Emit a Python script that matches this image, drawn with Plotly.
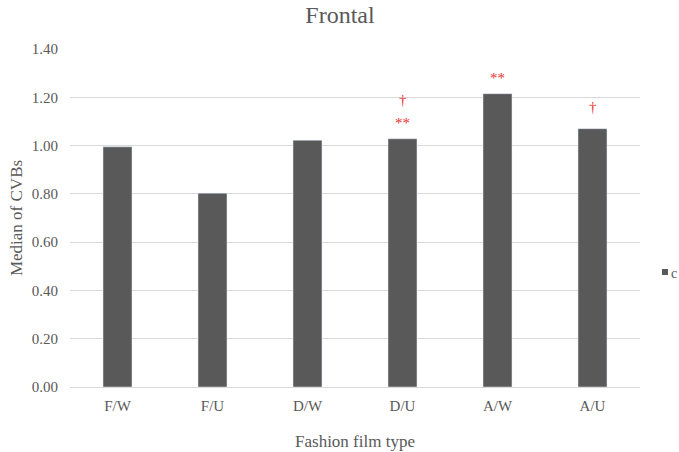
import plotly.graph_objects as go

categories = ["F/W", "F/U", "D/W", "D/U", "A/W", "A/U"]
values = [0.995, 0.803, 1.022, 1.028, 1.215, 1.070]
series_name = "c"
# significance markers: (category, y position, text)
markers = [("D/U", 1.093, "**"), ("D/U", 1.19, "†"), ("A/W", 1.281, "**"), ("A/U", 1.158, "†")]
y_ticks = [0.0, 0.2, 0.4, 0.6, 0.8, 1.0, 1.2, 1.4]

serif = "Liberation Serif, Times New Roman, serif"
grey = "#595959"

fig = go.Figure()
fig.add_trace(go.Bar(x=categories, y=values, name=series_name, marker_color=grey,
                     showlegend=False))

for cat, y, txt in markers:
    fig.add_annotation(x=cat, y=y, text=txt, showarrow=False,
                       font=dict(family=serif, size=15, color="#e8312f"))

# legend drawn manually at the right edge, as in the reference
fig.add_annotation(xref="paper", yref="paper", x=(662 - 70) / 570, y=(387 - 272) / 338,
                   xanchor="left", yanchor="middle", text="", showarrow=False,
                   width=6, height=6, bgcolor=grey, borderpad=0, borderwidth=0)
fig.add_annotation(xref="paper", yref="paper", x=(670 - 70) / 570, y=(387 - 273) / 338,
                   xanchor="left", yanchor="middle", text=series_name, showarrow=False,
                   borderpad=0, font=dict(family=serif, size=14, color=grey))

fig.update_layout(
    width=679, height=452,
    margin=dict(l=70, r=39, t=49, b=65),
    paper_bgcolor="white", plot_bgcolor="white",
    bargap=0.695,
    showlegend=False,
    title=dict(text="Frontal", x=(340 / 679), xanchor="center", y=1 - 15 / 452, yanchor="middle",
               font=dict(family=serif, size=24, color=grey)),
    xaxis=dict(title=dict(text="Fashion film type", font=dict(family=serif, size=17, color=grey), standoff=22),
               tickfont=dict(family=serif, size=15, color=grey), automargin=False,
               ticks="outside", ticklen=5, tickcolor="rgba(0,0,0,0)",
               showline=True, linecolor="#d9d9d9", linewidth=1),
    yaxis=dict(title=dict(text="Median of CVBs", font=dict(family=serif, size=17, color=grey), standoff=4),
               tickvals=y_ticks, ticktext=[f"{v:.2f}" for v in y_ticks], automargin=False,
               range=[0, 1.4], tickfont=dict(family=serif, size=15, color=grey),
               ticks="outside", ticklen=8, tickcolor="rgba(0,0,0,0)",
               showgrid=True, gridcolor="#d9d9d9", zeroline=False),
)

fig.write_html("out.html", config={"displayModeBar": False},
               post_script="document.body.style.margin='0';document.body.style.overflow='hidden';")
